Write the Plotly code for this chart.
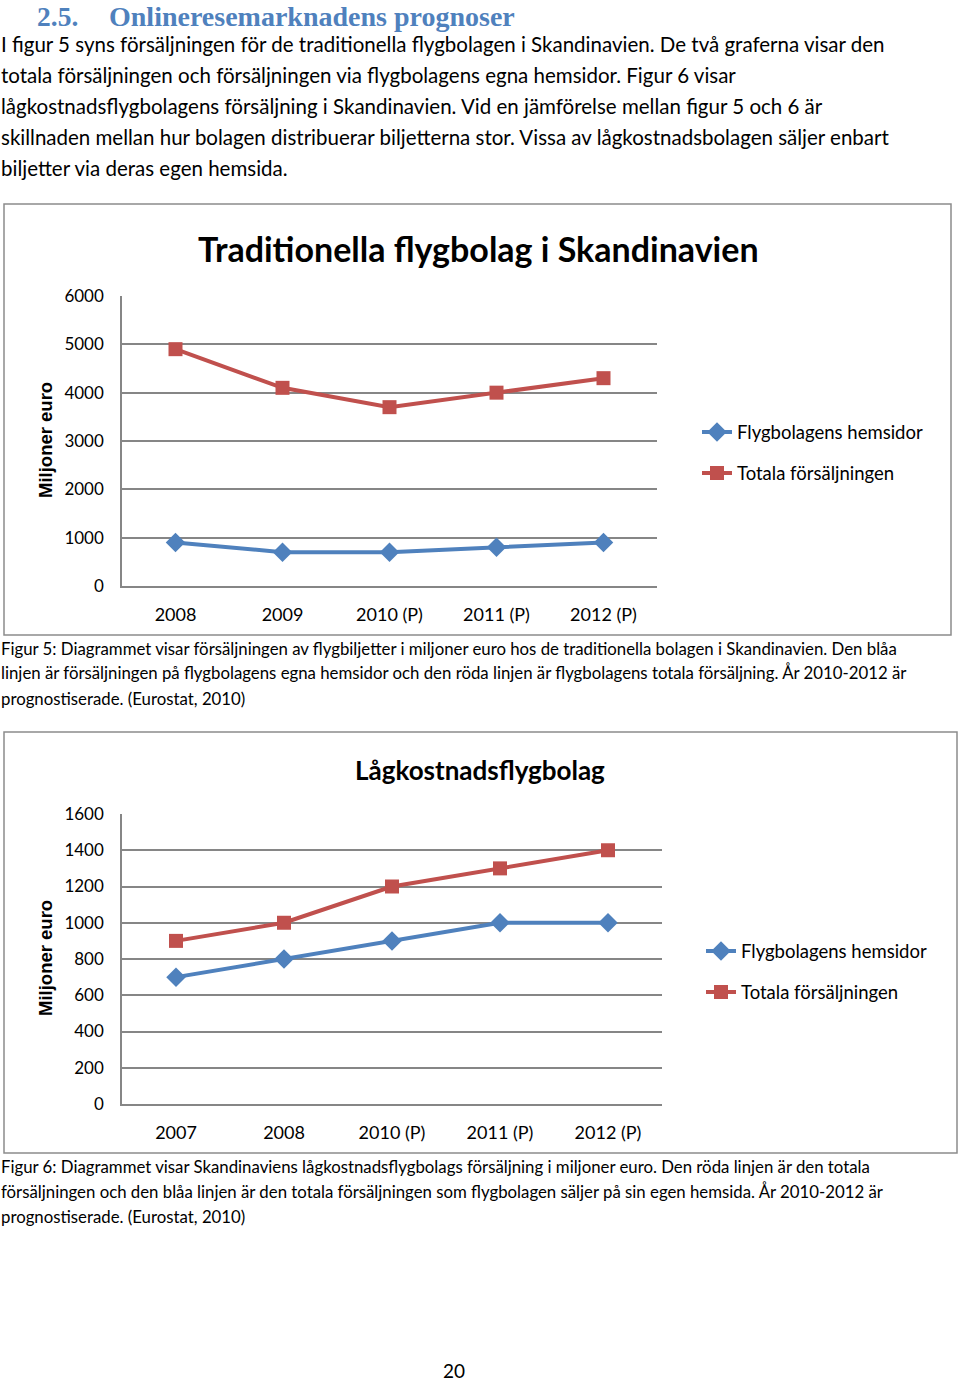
import plotly.graph_objects as go

W, H = 960, 1383

# ---- data ----
cats1 = ["2008", "2009", "2010 (P)", "2011 (P)", "2012 (P)"]
hemsidor1 = [900, 700, 700, 800, 900]
totala1 = [4900, 4100, 3700, 4000, 4300]

cats2 = ["2007", "2008", "2010 (P)", "2011 (P)", "2012 (P)"]
hemsidor2 = [700, 800, 900, 1000, 1000]
totala2 = [900, 1000, 1200, 1300, 1400]

name_blue = "Flygbolagens hemsidor"
name_red = "Totala försäljningen"

heading_num = "2.5."
heading_txt = "Onlineresemarknadens prognoser"
para = [
    "I figur 5 syns försäljningen för de traditionella flygbolagen i Skandinavien. De två graferna visar den",
    "totala försäljningen och försäljningen via flygbolagens egna hemsidor. Figur 6 visar",
    "lågkostnadsflygbolagens försäljning i Skandinavien. Vid en jämförelse mellan figur 5 och 6 är",
    "skillnaden mellan hur bolagen distribuerar biljetterna stor. Vissa av lågkostnadsbolagen säljer enbart",
    "biljetter via deras egen hemsida.",
]
cap1 = [
    "Figur 5: Diagrammet visar försäljningen av flygbiljetter i miljoner euro hos de traditionella bolagen i Skandinavien. Den blåa",
    "linjen är försäljningen på flygbolagens egna hemsidor och den röda linjen är flygbolagens totala försäljning. År 2010-2012 är",
    "prognostiserade. (Eurostat, 2010)",
]
cap2 = [
    "Figur 6: Diagrammet visar Skandinaviens lågkostnadsflygbolags försäljning i miljoner euro. Den röda linjen är den totala",
    "försäljningen och den blåa linjen är den totala försäljningen som flygbolagen säljer på sin egen hemsida. År 2010-2012 är",
    "prognostiserade. (Eurostat, 2010)",
]
title1 = "Traditionella flygbolag i Skandinavien"
title2 = "Lågkostnadsflygbolag"
ytitle = "Miljoner euro"
page_no = "20"

BLUE = "#4F81BD"
RED = "#C0504D"
GRID = "#868686"
FONT = "Lato"


def px(x):
    return x / W


def py(y):
    return 1 - y / H


fig = go.Figure()


def add_series(cats, vals, name, color, symbol, size, xa, ya, legend):
    fig.add_trace(go.Scatter(
        x=cats, y=vals, name=name, mode="lines+markers",
        line=dict(color=color, width=4),
        marker=dict(symbol=symbol, size=size, color=color),
        xaxis=xa, yaxis=ya, legend=legend, legendgroup=name + legend,
        showlegend=True,
    ))


add_series(cats1, hemsidor1, name_blue, BLUE, "diamond", 15, "x", "y", "legend")
add_series(cats1, totala1, name_red, RED, "square", 14, "x", "y", "legend")
add_series(cats2, hemsidor2, name_blue, BLUE, "diamond", 15, "x2", "y2", "legend2")
add_series(cats2, totala2, name_red, RED, "square", 14, "x2", "y2", "legend2")

axis_common_x = dict(
    type="category", showgrid=False, zeroline=False, showline=True,
    linecolor=GRID, linewidth=1.5, ticks="", ticklabelstandoff=12,
    tickfont=dict(family=FONT, size=18, color="#000"), fixedrange=True,
    automargin=False,
)
axis_common_y = dict(
    showgrid=True, gridcolor=GRID, gridwidth=1.5, zeroline=False,
    showline=True, linecolor=GRID, linewidth=1.5, ticks="",
    ticklabelstandoff=13, tickfont=dict(family=FONT, size=17, color="#000"),
    automargin=False,
)

fig.update_layout(
    width=W, height=H, margin=dict(l=0, r=0, t=0, b=0, pad=0, autoexpand=False),
    paper_bgcolor="white", plot_bgcolor="white", showlegend=True,
    xaxis=dict(axis_common_x, domain=[px(122), px(657)], range=[-0.5, 4.5], anchor="y"),
    yaxis=dict(axis_common_y, domain=[py(586), py(296)], range=[0, 6000], dtick=1000, anchor="x"),
    xaxis2=dict(axis_common_x, domain=[px(122), px(662)], range=[-0.5, 4.5], anchor="y2"),
    yaxis2=dict(axis_common_y, domain=[py(1104), py(814)], range=[0, 1600], dtick=200, anchor="x2"),
    legend=dict(x=px(697), y=py(453), xanchor="left", yanchor="middle",
                font=dict(family=FONT, size=18.5, color="#000"),
                tracegroupgap=14, bgcolor="rgba(0,0,0,0)"),
    legend2=dict(x=px(701), y=py(972), xanchor="left", yanchor="middle",
                 font=dict(family=FONT, size=18.5, color="#000"),
                 tracegroupgap=14, bgcolor="rgba(0,0,0,0)"),
)

# chart borders
for (x0, y0, x1, y1) in [(4, 204, 951, 635), (4, 732, 957, 1153)]:
    fig.add_shape(type="rect", xref="paper", yref="paper",
                  x0=px(x0), x1=px(x1), y0=py(y1), y1=py(y0),
                  line=dict(color="#8C8C8C", width=1.5), fillcolor="rgba(0,0,0,0)")

ann = []


def text(t, x, y, size, color="#000", family=FONT, xanchor="left", bold=False, angle=0):
    s = f"<b>{t}</b>" if bold else t
    ann.append(dict(text=s, x=px(x), y=py(y), xref="paper", yref="paper",
                    xanchor=xanchor, yanchor="middle", showarrow=False,
                    textangle=angle, borderpad=0,
                    font=dict(family=family, size=size, color=color)))


text(heading_num, 36, 16, 27.5, color=BLUE, family="Liberation Serif", bold=True)
text(heading_txt, 108, 16, 28, color=BLUE, family="Liberation Serif", bold=True)
for i, line in enumerate(para):
    text(line, 0, 44 + 31 * i, 20.5)
for i, line in enumerate(cap1):
    text(line, 0, 648 + 25 * i, 16.8)
for i, line in enumerate(cap2):
    text(line, 0, 1166 + 25 * i, 16.8)

text(title1, 478, 248, 34, xanchor="center", bold=True)
text(title2, 480, 770, 26, xanchor="center", bold=True)
text(ytitle, 46, 440, 18.5, family="Liberation Sans", xanchor="center", bold=True, angle=-90)
text(ytitle, 46, 958, 18.5, family="Liberation Sans", xanchor="center", bold=True, angle=-90)
text(page_no, 454, 1370, 19, xanchor="center")

fig.update_layout(annotations=ann)

post = (
    "document.documentElement.style.margin='0';"
    "document.body.style.margin='0';"
    "document.body.style.overflow='hidden';"
    "var d=document.getElementById('{plot_id}');"
    "d.style.position='absolute';d.style.top='0px';d.style.left='0px';"
)
fig.write_html("out.html", config={"displayModeBar": False}, post_script=post)
